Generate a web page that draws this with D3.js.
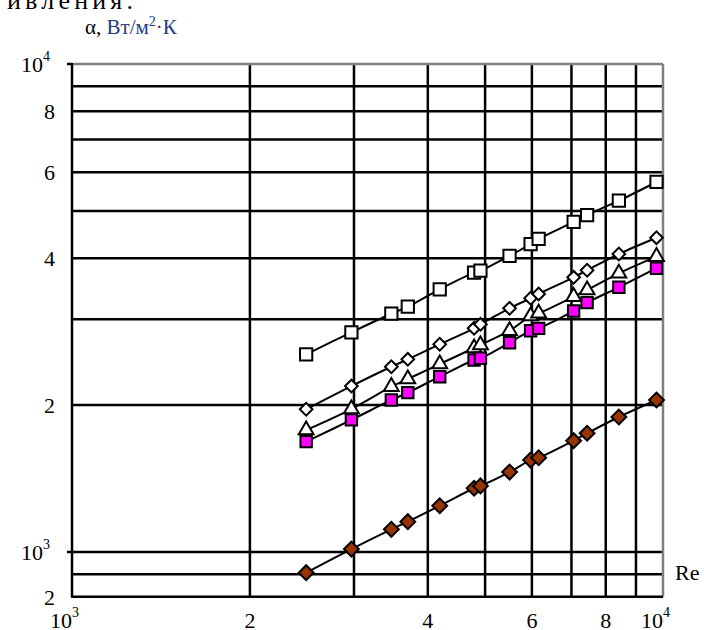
<html>
<head>
  <meta charset="utf-8">
  <script src="https://d3js.org/d3.v7.min.js"></script>
  <style>
    body { margin: 0; background: #fff; }
  </style>
</head>
<body>
  <svg id="chart" width="704" height="630" font-family="'Liberation Serif', 'Times New Roman', 'DejaVu Serif', serif"></svg>
  <script>
    // Reynolds numbers (same for every series)
    let re = [2490, 2970, 3470, 3700, 4190, 4790, 4910, 5500, 5970, 6160, 7060, 7440, 8420, 9750];

    // heat transfer coefficient, W/m2K
    let openSquares   = [2542, 2820, 3078, 3182, 3454, 3736, 3771, 4043, 4277, 4380, 4746, 4903, 5247, 5731];
    let openDiamonds  = [1961, 2188, 2397, 2482, 2665, 2873, 2928, 3157, 3311, 3379, 3655, 3779, 4080, 4406];
    let triangles     = [1778, 1963, 2182, 2262, 2428, 2618, 2656, 2841, 3045, 3084, 3336, 3443, 3725, 4029];
    let pinkSquares   = [1683, 1865, 2049, 2121, 2287, 2474, 2494, 2685, 2841, 2873, 3118, 3243, 3487, 3815];
    let brownDiamonds = [907, 1014, 1113, 1154, 1244, 1351, 1366, 1458, 1543, 1560, 1691, 1751, 1891, 2049];

    // grid / tick values
    let xGrid = [2000, 3000, 4000, 5000, 6000, 7000, 8000, 9000];
    let yGrid = [900, 1000, 2000, 3000, 4000, 5000, 6000, 7000, 8000, 9000];
    let xTicks = [[1000, "10", "3"], [2000, "2"], [4000, "4"], [6000, "6"], [8000, "8"], [10000, "10", "4"]];
    let yTicks = [[10000, "10", "4"], [8000, "8"], [6000, "6"], [4000, "4"], [2000, "2"], [1000, "10", "3"], [810, "2"]];

    let svg = d3.select("#chart");

    let x = d3.scaleLog().domain([1000, 10000]).range([72, 663]);
    let y = d3.scaleLog().domain([1000, 10000]).range([552, 64]);
    let yMin = 810;

    // cut-off text from the page above
    svg.append("text")
      .attr("x", 7).attr("y", 9)
      .attr("font-size", 26)
      .attr("textLength", 126)
      .text("ивления.");

    // axis title
    let title = svg.append("text")
      .attr("x", 85).attr("y", 34)
      .attr("font-size", 21);
    title.append("tspan").attr("fill", "#000").text("α, ");
    title.append("tspan").attr("fill", "#1f3b85").text("Вт/м");
    title.append("tspan").attr("fill", "#1f3b85").attr("font-size", 14).attr("dy", -8).text("2");
    title.append("tspan").attr("fill", "#1f3b85").attr("dy", 8).text("·К");

    let grid = svg.append("g");

    // horizontal grid
    grid.selectAll(".hg").data(yGrid).join("line")
      .attr("x1", x(1000)).attr("x2", x(10000))
      .attr("y1", d => y(d)).attr("y2", d => y(d))
      .attr("stroke", "#000").attr("stroke-width", 2.5);

    // vertical grid
    grid.selectAll(".vg").data(xGrid).join("line")
      .attr("x1", d => x(d)).attr("x2", d => x(d))
      .attr("y1", y(10000)).attr("y2", y(yMin))
      .attr("stroke", "#000").attr("stroke-width", 2.5);

    // top + right border (gray)
    grid.append("line")
      .attr("x1", x(1000)).attr("x2", x(10000)).attr("y1", y(10000)).attr("y2", y(10000))
      .attr("stroke", "#808080").attr("stroke-width", 2.5);
    grid.append("line")
      .attr("x1", x(10000)).attr("x2", x(10000)).attr("y1", y(10000)).attr("y2", y(yMin))
      .attr("stroke", "#808080").attr("stroke-width", 2.5);

    // left axis + bottom axis
    grid.append("line")
      .attr("x1", x(1000)).attr("x2", x(1000)).attr("y1", y(10000) - 1).attr("y2", y(yMin) + 1)
      .attr("stroke", "#000").attr("stroke-width", 2.5);
    grid.append("line")
      .attr("x1", x(1000)).attr("x2", x(10000)).attr("y1", y(yMin)).attr("y2", y(yMin))
      .attr("stroke", "#000").attr("stroke-width", 2.5);
    // decade ticks on left axis
    grid.selectAll(".tk").data([1000, 10000]).join("line")
      .attr("x1", x(1000) - 5).attr("x2", x(1000))
      .attr("y1", d => y(d)).attr("y2", d => y(d))
      .attr("stroke", "#000").attr("stroke-width", 2.5);

    // y labels
    yTicks.forEach(t => {
      let tx = svg.append("text")
        .attr("y", y(t[0]) + 8)
        .attr("font-size", 22)
        .attr("text-anchor", "end");
      if (t[2]) {
        tx.attr("x", 50);
        tx.append("tspan").text(t[1]);
        tx.append("tspan").attr("font-size", 14).attr("dy", -11).text(t[2]);
      } else {
        tx.attr("x", 55).text(t[1]);
      }
    });

    // x labels
    xTicks.forEach(t => {
      if (t[2]) {
        svg.append("text")
          .attr("x", x(t[0])).attr("y", 628)
          .attr("font-size", 22).attr("text-anchor", "end")
          .text(t[1]);
        svg.append("text")
          .attr("x", x(t[0])).attr("y", 617)
          .attr("font-size", 14)
          .text(t[2]);
      } else {
        svg.append("text")
          .attr("x", x(t[0])).attr("y", 628)
          .attr("font-size", 22).attr("text-anchor", "middle")
          .text(t[1]);
      }
    });

    svg.append("text")
      .attr("x", 675).attr("y", 580)
      .attr("font-size", 22)
      .text("Re");

    // series
    let series = [
      { vals: openSquares,   shape: d3.symbolSquare,   size: 150, rot: 0,  fill: "#fff",    sw: 2 },
      { vals: openDiamonds,  shape: d3.symbolSquare,   size: 80,  rot: 45, fill: "#fff",    sw: 2 },
      { vals: triangles,     shape: d3.symbolTriangle, size: 95,  rot: 0,  fill: "#fff",    sw: 2 },
      { vals: pinkSquares,   shape: d3.symbolSquare,   size: 130, rot: 0,  fill: "#ff00ff", sw: 2 },
      { vals: brownDiamonds, shape: d3.symbolSquare,   size: 110, rot: 45, fill: "#993300", sw: 2 }
    ];

    let line = d3.line()
      .x(d => x(d[0]))
      .y(d => y(d[1]))
      .curve(d3.curveCatmullRom);

    series.forEach(s => {
      let pts = re.map((r, i) => [r, s.vals[i]]);
      let g = svg.append("g");
      g.append("path")
        .attr("d", line(pts))
        .attr("fill", "none")
        .attr("stroke", "#000")
        .attr("stroke-width", 2);
      g.selectAll("path.m").data(pts).join("path")
        .attr("class", "m")
        .attr("d", d3.symbol().type(s.shape).size(s.size))
        .attr("transform", d => "translate(" + x(d[0]) + "," + y(d[1]) + ") rotate(" + s.rot + ")")
        .attr("fill", s.fill)
        .attr("stroke", "#000")
        .attr("stroke-width", s.sw);
    });
  </script>
</body>
</html>
